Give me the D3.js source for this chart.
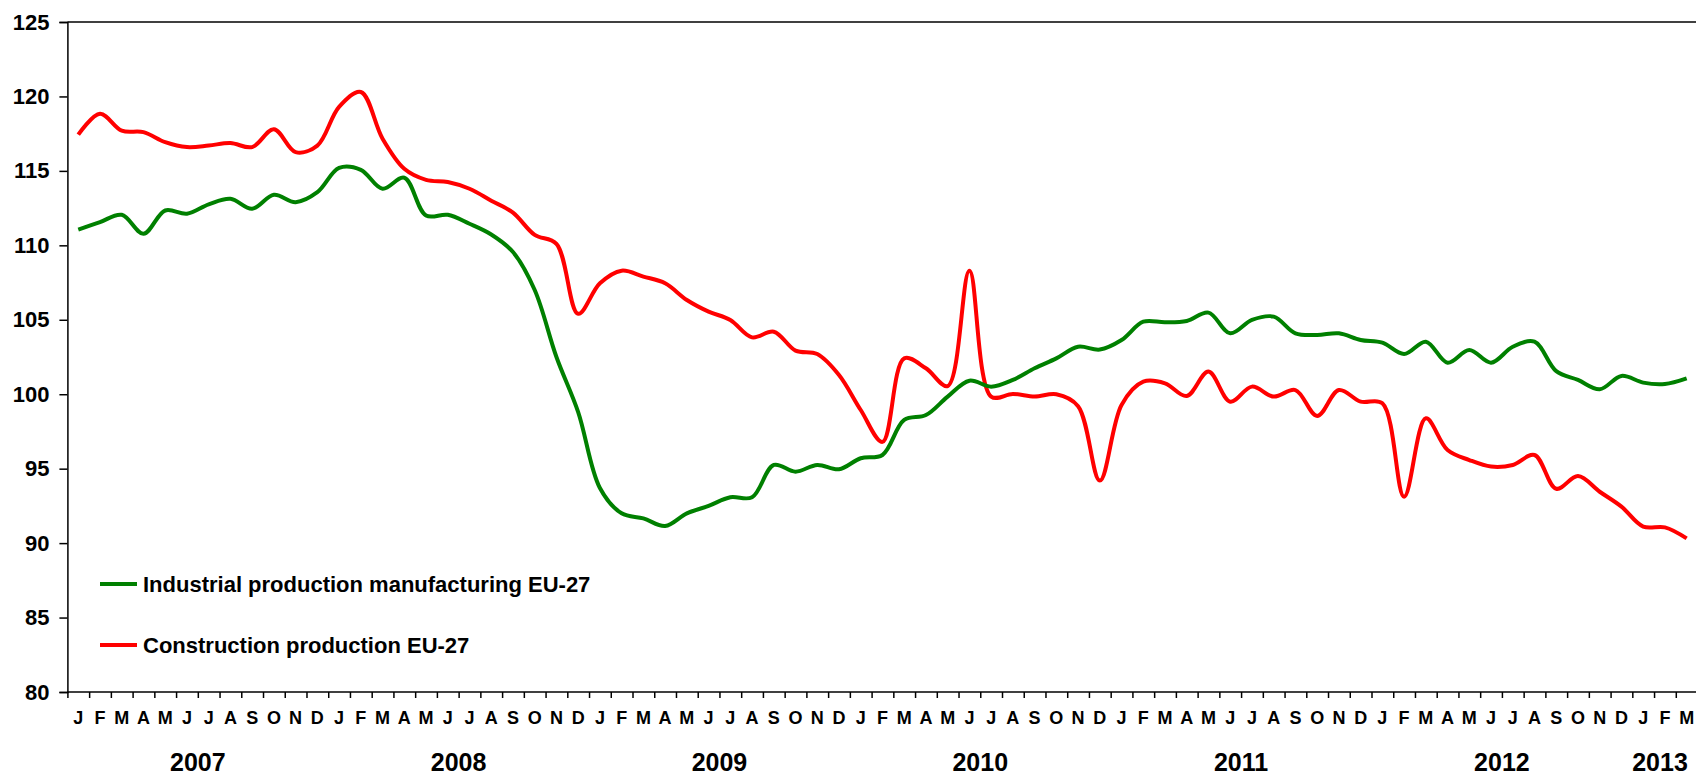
<!DOCTYPE html>
<html>
<head>
<meta charset="utf-8">
<script src="https://cdn.jsdelivr.net/npm/d3@7"></script>
<style>
  body { margin: 0; background: #fff; }
  svg { display: block; font-family: "Liberation Sans", Arial, sans-serif; font-weight: bold; }
</style>
</head>
<body>
<script>
// chart data
let years = ["2007", "2008", "2009", "2010", "2011", "2012", "2013"]
let monthsPerYear = [12, 12, 12, 12, 12, 12, 3]
let monthLetters = ["J", "F", "M", "A", "M", "J", "J", "A", "S", "O", "N", "D"]
let yTicks = [80, 85, 90, 95, 100, 105, 110, 115, 120, 125]
let seriesNames = ["Industrial production manufacturing EU-27", "Construction production EU-27"]

let industrial = [
    111.05, 111.56, 112.05, 110.78, 112.34, 112.12, 112.75, 113.13, 112.46, 113.4, 112.9, 113.57,
    115.2, 115.07, 113.8, 114.54, 112.0, 112.05, 111.45, 110.73, 109.55, 107.0, 102.5, 98.8,
    93.7, 92.0, 91.66, 91.15, 92.0, 92.5, 93.08, 93.08, 95.25, 94.8, 95.25, 94.96,
    95.7, 95.92, 98.27, 98.6, 99.84, 100.91, 100.51, 100.96, 101.74, 102.41, 103.19, 103.0,
    103.64, 104.87, 104.83, 104.92, 105.48, 104.09, 104.99, 105.21, 104.09, 103.98, 104.09, 103.64,
    103.46, 102.7, 103.53, 102.12, 102.97, 102.12, 103.19, 103.53, 101.55, 100.96, 100.33, 101.23,
    100.78, 100.69, 101.07
]
let construction = [
    117.43, 118.84, 117.7, 117.6, 116.93, 116.6, 116.7, 116.87, 116.6, 117.8, 116.26, 116.7,
    119.3, 120.3, 117.16, 115.14, 114.4, 114.25, 113.8, 113.0, 112.2, 110.7, 110.1, 105.4,
    107.45, 108.3, 107.9, 107.45, 106.33, 105.55, 104.99, 103.82, 104.2, 102.93, 102.7, 101.29,
    98.94, 96.8, 102.41, 101.74, 100.55, 108.3, 99.84, 100.02, 99.84, 100.0, 99.2, 94.2,
    99.28, 100.84, 100.73, 99.88, 101.52, 99.5, 100.51, 99.84, 100.28, 98.54, 100.28, 99.5,
    99.39, 93.12, 98.38, 96.25, 95.58, 95.14, 95.25, 95.92, 93.65, 94.5, 93.45, 92.45,
    91.11, 91.06, 90.32
]

function main(){
    let width = 1696
    let height = 777
    let left = 67.4
    let bandW = 21.735
    let top = 22
    let bottom = 692

    // month categories
    let months = []
    years.forEach(function(y, yi){
        for (let m = 0; m < monthsPerYear[yi]; m++) months.push(y + "-" + m)
    })

    let x = d3.scaleBand()
                .domain(months)
                .range([left, left + bandW*months.length])
                .padding(0)
    let xLin = d3.scaleLinear()
                .domain([0, months.length])
                .range([left, left + bandW*months.length])
    let y = d3.scaleLinear()
                .domain([80, 125])
                .range([bottom, top])

    let svg = d3.select('body')
        .append('svg')
        .attr('width', width)
        .attr('height', height)

    // top border of plot area
    svg.append('line')
        .attr('x1', left).attr('x2', width)
        .attr('y1', top).attr('y2', top)
        .attr('stroke', '#000').attr('stroke-width', 1.5)

    // y axis
    let yAxis = svg.append('g')
        .attr('transform', 'translate(' + left + ',0)')
        .call(d3.axisLeft(y).tickValues(yTicks).tickSize(8).tickPadding(10))
    yAxis.selectAll('text')
        .attr('font-size', 22).attr('font-weight', 'bold')
        .attr('font-family', '"Liberation Sans", Arial, sans-serif')
        .attr('fill', '#000')
    yAxis.selectAll('line, path').attr('stroke', '#000').attr('stroke-width', 1.5)

    // x axis: ticks between months
    let xTicks = svg.append('g')
        .attr('transform', 'translate(0,' + bottom + ')')
        .call(d3.axisBottom(xLin).tickValues(d3.range(0, months.length + 1)).tickSize(6).tickFormat('').tickSizeOuter(0))
    xTicks.selectAll('line, path').attr('stroke', '#000').attr('stroke-width', 1.5)
    xTicks.select('path').attr('d', 'M' + left + ',0H' + width)

    // month letters
    let xLabels = svg.append('g')
        .attr('transform', 'translate(0,' + bottom + ')')
        .call(d3.axisBottom(x).tickSize(0).tickPadding(19).tickFormat(function(d){
            return monthLetters[+d.split('-')[1]]
        }))
    xLabels.select('path').remove()
    xLabels.selectAll('text')
        .attr('font-size', 18).attr('font-weight', 'bold')
        .attr('font-family', '"Liberation Sans", Arial, sans-serif')
        .attr('fill', '#000')

    // year labels
    let start = 0
    years.forEach(function(yr, yi){
        let n = monthsPerYear[yi]
        let cx = (xLin(start) + xLin(start + n))/2
        if (n < 12) cx = Math.min(cx, width - 36)
        svg.append('text')
            .attr('x', cx)
            .attr('y', 771)
            .attr('text-anchor', 'middle')
            .attr('font-size', 25)
            .text(yr)
        start += n
    })

    // lines
    let line = d3.line()
        .x(function(d, i){ return x(months[i]) + x.bandwidth()/2 })
        .y(function(d){ return y(d) })
        .curve(d3.curveCatmullRom)

    svg.append('path')
        .datum(construction)
        .attr('d', line)
        .attr('fill', 'none')
        .attr('stroke', '#ff0000')
        .attr('stroke-width', 4)
        .attr('stroke-linejoin', 'round')

    svg.append('path')
        .datum(industrial)
        .attr('d', line)
        .attr('fill', 'none')
        .attr('stroke', '#008000')
        .attr('stroke-width', 4)
        .attr('stroke-linejoin', 'round')

    // legend
    let legendColors = ['#008000', '#ff0000']
    let legendY = [584, 645]
    seriesNames.forEach(function(name, i){
        svg.append('line')
            .attr('x1', 100).attr('x2', 137)
            .attr('y1', legendY[i]).attr('y2', legendY[i])
            .attr('stroke', legendColors[i])
            .attr('stroke-width', 4)
        svg.append('text')
            .attr('x', 143)
            .attr('y', legendY[i] + 8)
            .attr('font-size', 22)
            .text(name)
    })
}

main()
</script>
</body>
</html>
